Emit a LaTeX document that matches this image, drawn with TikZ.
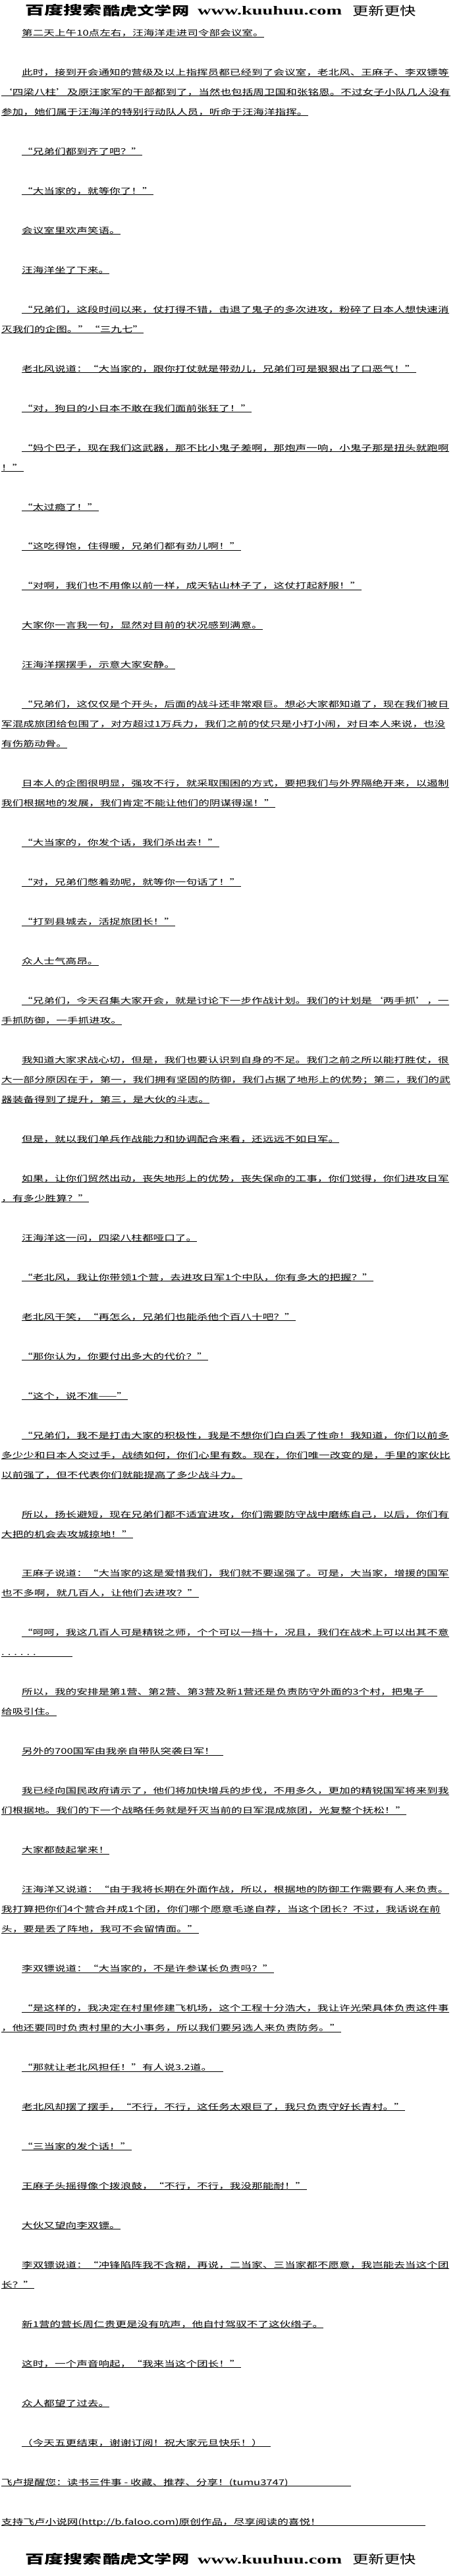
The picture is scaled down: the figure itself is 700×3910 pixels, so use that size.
\documentclass[tikz,border=0pt]{standalone}
\usepackage{graphicx}
\usepackage{fontspec}
\usepackage{newunicodechar}
\usepackage{tikz}
\newfontfamily\cjk{Noto Sans CJK SC}
\newfontfamily\hdserif{Liberation Serif}
\newunicodechar{“}{\makebox[1em][r]{\symbol{"201C}}}
\newunicodechar{”}{\makebox[1em][l]{\symbol{"201D}}}
\newunicodechar{‘}{\makebox[1em][r]{\symbol{"2018}}}
\newunicodechar{’}{\makebox[1em][l]{\symbol{"2019}}}
\tikzset{
	txt/.style={anchor=base west, inner sep=0pt, text height=9pt, text depth=1.3pt, font=\cjk\fontsize{12}{12}\selectfont},
	uline/.style={line width=0.9pt, black},
	hdbox/.style={anchor=south west, inner sep=0pt}
}
\def\sx#1{\scalebox{1.385}[1]{#1}}
\def\txtline(#1)(#2:#3)#4{\node[txt] (#1) at (#2,{-54.5-29.98*#3}) {\sx{#4}}; \draw[uline] (#1.south west) -- (#1.south east);}

\begin{document}
\begin{tikzpicture}[x=1pt, y=1pt]
			%%%%% START %%%%%
			
			\useasboundingbox (0, 0) rectangle (700, -3910);
			\fill[white] (0, 0) rectangle (700, -3910);
			
			% banner on top
			\node[hdbox] (hdA) at (38, -25) {\resizebox*{116pt}{18pt}{\cjk\bfseries 百度搜索}};
			\node[hdbox] (hdB) at (156, -25) {\resizebox*{131pt}{18pt}{\cjk\bfseries 酷虎文学网}};
			\node[hdbox, anchor=base west] (hdC) at (300, -23) {\resizebox{219pt}{13pt}{\hdserif\bfseries www.kuuhuu.com}};
			\node[hdbox] (hdD) at (535, -25) {\resizebox*{97pt}{17pt}{\cjk 更新更快}};
			
			\txtline(l0)(33:0){第二天上午10点左右，汪海洋走进司令部会议室。}
			\txtline(l2)(33:2){此时，接到开会通知的营级及以上指挥员都已经到了会议室，老北风、王麻子、李双镖等}
			\txtline(l3)(2:3){‘四梁八柱’及原汪家军的干部都到了，当然也包括周卫国和张铭恩。不过女子小队几人没有}
			\txtline(l4)(2:4){参加，她们属于汪海洋的特别行动队人员，听命于汪海洋指挥。}
			\txtline(l6)(33:6){“兄弟们都到齐了吧？”}
			\txtline(l8)(33:8){“大当家的，就等你了！”}
			\txtline(l10)(33:10){会议室里欢声笑语。}
			\txtline(l12)(33:12){汪海洋坐了下来。}
			\txtline(l14)(33:14){“兄弟们，这段时间以来，仗打得不错，击退了鬼子的多次进攻，粉碎了日本人想快速消}
			\txtline(l15)(2:15){灭我们的企图。”“三九七”}
			\txtline(l17)(33:17){老北风说道：“大当家的，跟你打仗就是带劲儿，兄弟们可是狠狠出了口恶气！”}
			\txtline(l19)(33:19){“对，狗日的小日本不敢在我们面前张狂了！”}
			\txtline(l21)(33:21){“妈个巴子，现在我们这武器，那不比小鬼子差啊，那炮声一响，小鬼子那是扭头就跑啊}
			\txtline(l22)(2:22){！”}
			\txtline(l24)(33:24){“太过瘾了！”}
			\txtline(l26)(33:26){“这吃得饱，住得暖，兄弟们都有劲儿啊！”}
			\txtline(l28)(33:28){“对啊，我们也不用像以前一样，成天钻山林子了，这仗打起舒服！”}
			\txtline(l30)(33:30){大家你一言我一句，显然对目前的状况感到满意。}
			\txtline(l32)(33:32){汪海洋摆摆手，示意大家安静。}
			\txtline(l34)(33:34){“兄弟们，这仅仅是个开头，后面的战斗还非常艰巨。想必大家都知道了，现在我们被日}
			\txtline(l35)(2:35){军混成旅团给包围了，对方超过1万兵力，我们之前的仗只是小打小闹，对日本人来说，也没}
			\txtline(l36)(2:36){有伤筋动骨。}
			\txtline(l38)(33:38){日本人的企图很明显，强攻不行，就采取围困的方式，要把我们与外界隔绝开来，以遏制}
			\txtline(l39)(2:39){我们根据地的发展，我们肯定不能让他们的阴谋得逞！”}
			\txtline(l41)(33:41){“大当家的，你发个话，我们杀出去！”}
			\txtline(l43)(33:43){“对，兄弟们憋着劲呢，就等你一句话了！”}
			\txtline(l45)(33:45){“打到县城去，活捉旅团长！”}
			\txtline(l47)(33:47){众人士气高昂。}
			\txtline(l49)(33:49){“兄弟们，今天召集大家开会，就是讨论下一步作战计划。我们的计划是‘两手抓’，一}
			\txtline(l50)(2:50){手抓防御，一手抓进攻。}
			\txtline(l52)(33:52){我知道大家求战心切，但是，我们也要认识到自身的不足。我们之前之所以能打胜仗，很}
			\txtline(l53)(2:53){大一部分原因在于，第一，我们拥有坚固的防御，我们占据了地形上的优势；第二，我们的武}
			\txtline(l54)(2:54){器装备得到了提升，第三，是大伙的斗志。}
			\txtline(l56)(33:56){但是，就以我们单兵作战能力和协调配合来看，还远远不如日军。}
			\txtline(l58)(33:58){如果，让你们贸然出动，丧失地形上的优势，丧失保命的工事，你们觉得，你们进攻日军}
			\txtline(l59)(2:59){，有多少胜算？”}
			\txtline(l61)(33:61){汪海洋这一问，四梁八柱都哑口了。}
			\txtline(l63)(33:63){“老北风，我让你带领1个营，去进攻日军1个中队，你有多大的把握？”}
			\txtline(l65)(33:65){老北风干笑，“再怎么，兄弟们也能杀他个百八十吧？”}
			\txtline(l67)(33:67){“那你认为，你要付出多大的代价？”}
			\txtline(l69)(33:69){“这个，说不准——”}
			\txtline(l71)(33:71){“兄弟们，我不是打击大家的积极性，我是不想你们白白丢了性命！我知道，你们以前多}
			\txtline(l72)(2:72){多少少和日本人交过手，战绩如何，你们心里有数。现在，你们唯一改变的是，手里的家伙比}
			\txtline(l73)(2:73){以前强了，但不代表你们就能提高了多少战斗力。}
			\txtline(l75)(33:75){所以，扬长避短，现在兄弟们都不适宜进攻，你们需要防守战中磨练自己，以后，你们有}
			\txtline(l76)(2:76){大把的机会去攻城掠地！”}
			\txtline(l78)(33:78){王麻子说道：“大当家的这是爱惜我们，我们就不要逞强了。可是，大当家，增援的国军}
			\txtline(l79)(2:79){也不多啊，就几百人，让他们去进攻？”}
			\txtline(l81)(33:81){“呵呵，我这几百人可是精锐之师，个个可以一挡十，况且，我们在战术上可以出其不意}
			\txtline(l82)(2:82){. . . . . .}
			\txtline(l84)(33:84){所以，我的安排是第1营、第2营、第3营及新1营还是负责防守外面的3个村，把鬼子}
			\txtline(l85)(2:85){给吸引住。}
			\txtline(l87)(33:87){另外的700国军由我亲自带队突袭日军！}
			\txtline(l89)(33:89){我已经向国民政府请示了，他们将加快增兵的步伐，不用多久，更加的精锐国军将来到我}
			\txtline(l90)(2:90){们根据地。我们的下一个战略任务就是歼灭当前的日军混成旅团，光复整个抚松！”}
			\txtline(l92)(33:92){大家都鼓起掌来！}
			\txtline(l94)(33:94){汪海洋又说道：“由于我将长期在外面作战，所以，根据地的防御工作需要有人来负责。}
			\txtline(l95)(2:95){我打算把你们4个营合并成1个团，你们哪个愿意毛遂自荐，当这个团长？不过，我话说在前}
			\txtline(l96)(2:96){头，要是丢了阵地，我可不会留情面。”}
			\txtline(l98)(33:98){李双镖说道：“大当家的，不是许参谋长负责吗？”}
			\txtline(l100)(33:100){“是这样的，我决定在村里修建飞机场，这个工程十分浩大，我让许光荣具体负责这件事}
			\txtline(l101)(2:101){，他还要同时负责村里的大小事务，所以我们要另选人来负责防务。”}
			\txtline(l103)(33:103){“那就让老北风担任！”有人说3.2道。}
			\txtline(l105)(33:105){老北风却摆了摆手，“不行，不行，这任务太艰巨了，我只负责守好长青村。”}
			\txtline(l107)(33:107){“三当家的发个话！”}
			\txtline(l109)(33:109){王麻子头摇得像个拨浪鼓，“不行，不行，我没那能耐！”}
			\txtline(l111)(33:111){大伙又望向李双镖。}
			\txtline(l113)(33:113){李双镖说道：“冲锋陷阵我不含糊，再说，二当家、三当家都不愿意，我岂能去当这个团}
			\txtline(l114)(2:114){长？”}
			\txtline(l116)(33:116){新1营的营长周仁贵更是没有吭声，他自忖驾驭不了这伙绺子。}
			\txtline(l118)(33:118){这时，一个声音响起，“我来当这个团长！”}
			\txtline(l120)(33:120){众人都望了过去。}
			\txtline(l122)(33:122){（今天五更结束，谢谢订阅！祝大家元旦快乐！）}
			\txtline(l124)(2:124){飞卢提醒您：读书三件事 - 收藏、推荐、分享！(tumu3747)}
			\txtline(l126)(2:126){支持飞卢小说网(http://b.faloo.com)原创作品，尽享阅读的喜悦！}
			
			% underlines running on past the text
			\coordinate (u82) at (110, 0);
			\coordinate (u84) at (664, 0);
			\coordinate (u87) at (339, 0);
			\coordinate (u103) at (339, 0);
			\coordinate (u122) at (411, 0);
			\coordinate (u124) at (533, 0);
			\coordinate (u126) at (646, 0);
			\draw[uline] (l82.south east) -- (l82.south east -| u82);
			\draw[uline] (l84.south east) -- (l84.south east -| u84);
			\draw[uline] (l87.south east) -- (l87.south east -| u87);
			\draw[uline] (l103.south east) -- (l103.south east -| u103);
			\draw[uline] (l122.south east) -- (l122.south east -| u122);
			\draw[uline] (l124.south east) -- (l124.south east -| u124);
			\draw[uline] (l126.south east) -- (l126.south east -| u126);
			
			% banner at the bottom
			\node[hdbox] (ftA) at (38, -3893) {\resizebox*{116pt}{18pt}{\cjk\bfseries 百度搜索}};
			\node[hdbox] (ftB) at (156, -3893) {\resizebox*{131pt}{18pt}{\cjk\bfseries 酷虎文学网}};
			\node[hdbox, anchor=base west] (ftC) at (300, -3891) {\resizebox{219pt}{13pt}{\hdserif\bfseries www.kuuhuu.com}};
			\node[hdbox] (ftD) at (535, -3893) {\resizebox*{97pt}{17pt}{\cjk 更新更快}};
			
			%%%%% END %%%%%
\end{tikzpicture}
\end{document}
